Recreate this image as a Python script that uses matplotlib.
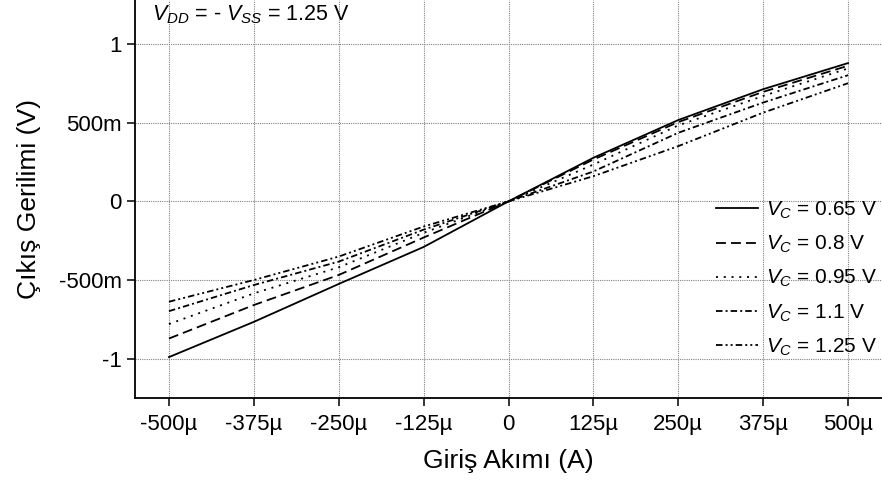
import matplotlib
matplotlib.use('Agg')
import matplotlib.pyplot as plt

plt.rcParams['font.family'] = ['Liberation Sans', 'DejaVu Sans']
plt.rcParams['mathtext.fontset'] = 'custom'
plt.rcParams['mathtext.rm'] = 'Liberation Sans'
plt.rcParams['mathtext.it'] = 'Liberation Sans:italic'

# input current (uA) and output voltage (V) for each control voltage
x_ua = [-500, -375, -250, -125, 0, 125, 250, 375, 500]
vc_065 = [-0.99, -0.766, -0.525, -0.29, 0.0, 0.277, 0.517, 0.713, 0.879]
vc_080 = [-0.872, -0.659, -0.468, -0.23, 0.0, 0.266, 0.504, 0.696, 0.862]
vc_095 = [-0.78, -0.585, -0.419, -0.20, 0.0, 0.234, 0.483, 0.67, 0.845]
vc_110 = [-0.698, -0.532, -0.383, -0.18, 0.0, 0.19, 0.436, 0.628, 0.802]
vc_125 = [-0.638, -0.50, -0.351, -0.16, 0.0, 0.16, 0.351, 0.564, 0.751]

labels = ['0.65', '0.8', '0.95', '1.1', '1.25']
series = [vc_065, vc_080, vc_095, vc_110, vc_125]
dashes = [(None, None), (5.5, 2.8), (1.1, 3.2), (3.6, 1.7, 1.1, 1.7), (3.6, 1.7, 1.1, 1.7, 1.1, 1.7)]

xticks = [-500, -375, -250, -125, 0, 125, 250, 375, 500]
xticklabels = ['-500µ', '-375µ', '-250µ', '-125µ', '0', '125µ', '250µ', '375µ', '500µ']
yticks = [-1, -0.5, 0, 0.5, 1]
yticklabels = ['-1', '-500m', '0', '500m', '1']

fig = plt.figure(figsize=(8.82, 4.84), dpi=100)
ax = fig.add_axes([135 / 882, 86 / 484, 747 / 882, 398 / 484])

for lab, ys, d in zip(labels, series, dashes):
    line, = ax.plot(x_ua, ys, color='black', lw=1.3, label=r'$V_C$' + ' = ' + lab + ' V')
    if d[0] is not None:
        line.set_dashes(d)

ax.set_xlim(-550, 550)
ax.set_ylim(-1.25, 1.28)
ax.set_xticks(xticks)
ax.set_xticklabels(xticklabels)
ax.set_yticks(yticks)
ax.set_yticklabels(yticklabels)
ax.grid(True, color='#808080', linestyle=(0, (1, 1)), lw=0.8)

for s in ['top', 'right']:
    ax.spines[s].set_visible(False)
for s in ['left', 'bottom']:
    ax.spines[s].set_linewidth(1.3)
ax.tick_params(direction='out', length=6, width=1.1, labelsize=16)
ax.tick_params(axis='x', pad=5.5)
ax.tick_params(axis='y', pad=3.6)

ax.set_xlabel('Giriş Akımı (A)', fontsize=19, labelpad=10)
ax.set_ylabel('Çıkış Gerilimi (V)', fontsize=19, labelpad=13)

ax.text(0.023, 0.962, r'$V_{DD}$' + ' = - ' + r'$V_{SS}$' + ' = 1.25 V',
        transform=ax.transAxes, fontsize=15.5, va='center', ha='left')

ax.legend(loc='lower right', bbox_to_anchor=(1.005, 0.08), frameon=False, fontsize=15,
          handlelength=2.0, handletextpad=0.4, labelspacing=0.62, borderaxespad=0.0)

fig.savefig('out.png', dpi=100)
